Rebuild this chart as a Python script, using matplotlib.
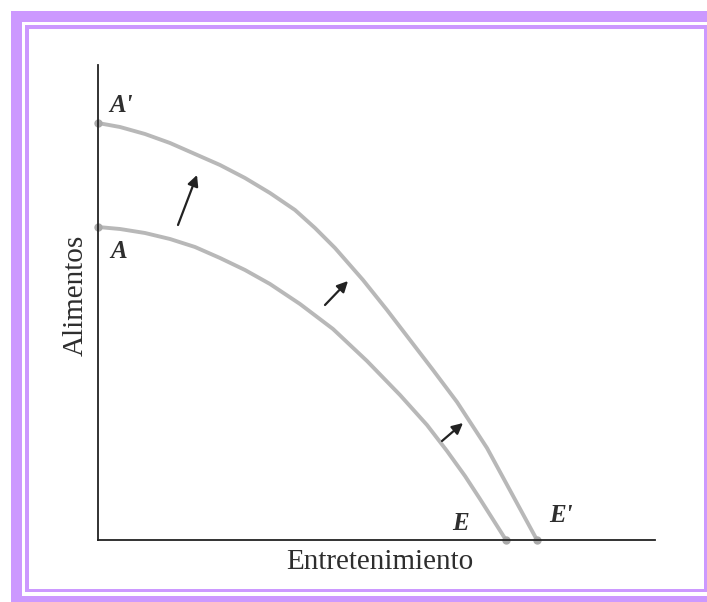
import matplotlib.pyplot as plt
from matplotlib.patches import Rectangle

# curvas de posibilidades de producción
entret_AE = [0, 22, 47, 72, 97, 122, 147, 172, 202, 235, 269, 302, 329, 349, 367, 382, 408]
alim_AE = [313, 311, 307, 301, 293, 282, 270, 256, 236, 211, 179, 145, 115, 89, 64, 41, 0]

entret_AE2 = [0, 22, 47, 72, 97, 122, 147, 172, 197, 217, 237, 265, 289, 312, 335, 359, 389, 414, 439]
alim_AE2 = [417, 413, 406, 397, 386, 375, 362, 347, 330, 312, 292, 260, 230, 200, 170, 138, 92, 46, 0]

# flechas del desplazamiento: (x0, y0, x1, y1)
flechas = [(80, 315, 99, 365), (227, 235, 250, 259), (344, 99, 365, 117)]

etiquetas = ["A'", "A", "E", "E'"]
etiq_x = [23, 21, 363, 463]
etiq_y = [434, 288, 17, 25]

W, H = 707, 602
fig = plt.figure(figsize=(W / 100, H / 100), dpi=100)

# marco lila
bg = fig.add_axes([0, 0, 1, 1])
bg.set_xlim(0, W)
bg.set_ylim(H, 0)
bg.axis('off')
lila = '#cc99ff'
bg.add_patch(Rectangle((11, 11), W, H, fc=lila, ec='none'))
bg.add_patch(Rectangle((22, 22), W, 596 - 22, fc='white', ec='none'))
bg.add_patch(Rectangle((25, 25), W - 25, 592 - 25, fc=lila, ec='none'))
bg.add_patch(Rectangle((29, 29), 704 - 29, 589 - 29, fc='white', ec='none'))

ax = fig.add_axes([98 / W, (H - 540) / H, (655 - 98) / W, (540 - 65) / H])
ax.patch.set_alpha(0)
ax.set_xlim(0, 557)
ax.set_ylim(0, 475)
for s in ['top', 'right']:
    ax.spines[s].set_visible(False)
for s in ['left', 'bottom']:
    ax.spines[s].set_color('#222222')
    ax.spines[s].set_linewidth(1.3)
ax.set_xticks([])
ax.set_yticks([])

gris = '#b8b8b8'
for xs, ys in [(entret_AE, alim_AE), (entret_AE2, alim_AE2)]:
    ax.plot(xs, ys, color=gris, lw=2.8, solid_capstyle='round', solid_joinstyle='round',
            clip_on=False)
    ax.plot([xs[0], xs[-1]], [ys[0], ys[-1]], 'o', color='#aaaaaa', ms=5, clip_on=False)

for x0, y0, x1, y1 in flechas:
    ax.annotate('', xy=(x1, y1), xytext=(x0, y0),
                arrowprops=dict(arrowstyle='-|>', color='#222222', lw=1.6,
                                mutation_scale=16, shrinkA=0, shrinkB=0))

for t, x, y in zip(etiquetas, etiq_x, etiq_y):
    ax.text(x, y, t, family='Liberation Serif', style='italic', fontweight='bold',
            fontsize=18, color='#2e2e2e', ha='center', va='center')

ax.text(-22, 245, 'Alimentos', family='Liberation Serif', fontsize=21, color='#2e2e2e',
        rotation=90, ha='center', va='center', clip_on=False)
ax.text(282, -22, 'Entretenimiento', family='Liberation Serif', fontsize=21, color='#2e2e2e',
        ha='center', va='center', clip_on=False)

fig.savefig('out.png', dpi=100)
